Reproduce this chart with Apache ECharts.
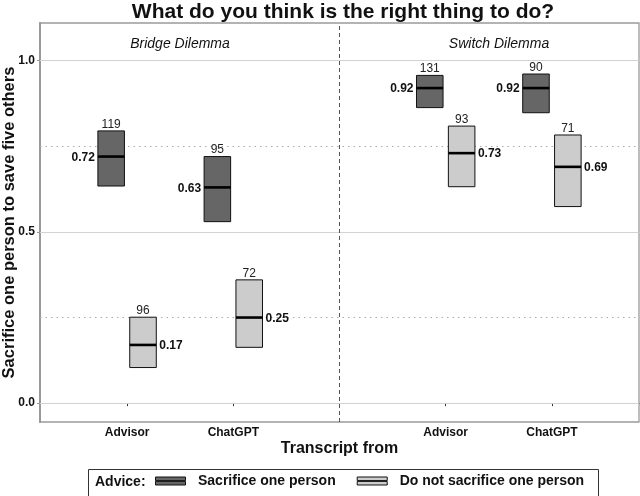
<!DOCTYPE html>
<html>
<head>
<meta charset="utf-8">
<script src="https://cdn.jsdelivr.net/npm/echarts@6.0.0/dist/echarts.min.js"></script>
<style>html,body{margin:0;padding:0;background:#fff}#chart{width:640px;height:496px}</style>
</head>
<body>
<div id="chart"></div>
<script>
const chartTitle = 'What do you think is the right thing to do?';
const dilemmas = ['Bridge Dilemma', 'Switch Dilemma'];
const sources = ['Advisor', 'ChatGPT'];
const adviceGroups = ['Sacrifice one person', 'Do not sacrifice one person'];
// order: Bridge-Advisor, Bridge-ChatGPT, Switch-Advisor, Switch-ChatGPT
const sacrificeMean = [0.72, 0.63, 0.92, 0.92];
const sacrificeLow  = [0.634, 0.530, 0.863, 0.848];
const sacrificeHigh = [0.795, 0.720, 0.957, 0.961];
const sacrificeN    = [119, 95, 131, 90];
const notSacrificeMean = [0.17, 0.25, 0.73, 0.69];
const notSacrificeLow  = [0.104, 0.163, 0.632, 0.574];
const notSacrificeHigh = [0.251, 0.360, 0.809, 0.783];
const notSacrificeN    = [96, 72, 93, 71];
const yTicks = [0, 0.5, 1.0];
const refLines = [0.25, 0.75];
const yAxisTitle = 'Sacrifice one person to save five others';
const xAxisTitle = 'Transcript from';
const legendTitle = 'Advice:';

const FONT = '"Liberation Sans", Arial, sans-serif';
const DODGE = 0.15, BOXW = 0.25;

function posOf(i) { // i: 0..3 -> x position 1,2,4,5
  const d = Math.floor(i / 2), c = i % 2;
  return d * 3 + c + 1;
}
function buildData(mean, lo, hi, n, off) {
  return mean.map((m, i) => [posOf(i) + off, lo[i], hi[i], m, n[i]]);
}

function makeRender(fill, labelSide) {
  return function (params, api) {
    const x = api.value(0), lo = api.value(1), hi = api.value(2), m = api.value(3), n = api.value(4);
    const tl = api.coord([x - BOXW / 2, hi]);
    const br = api.coord([x + BOXW / 2, lo]);
    const mid = api.coord([x, m]);
    const children = [
      { type: 'rect', shape: { x: tl[0], y: tl[1], width: br[0] - tl[0], height: br[1] - tl[1] },
        style: { fill: fill, stroke: '#111', lineWidth: 1 } },
      { type: 'line', shape: { x1: tl[0], y1: mid[1], x2: br[0], y2: mid[1] },
        style: { stroke: '#000', lineWidth: 2.6 } },
      { type: 'text', style: { text: String(n), x: mid[0], y: tl[1] - 0.5, align: 'center', verticalAlign: 'bottom',
        font: '12px ' + FONT, fill: '#222' } },
      { type: 'text', style: { text: m.toFixed(2), x: labelSide < 0 ? tl[0] - 3 : br[0] + 3, y: mid[1] + 1,
        align: labelSide < 0 ? 'right' : 'left', verticalAlign: 'middle', font: 'bold 12px ' + FONT, fill: '#111' } }
    ];
    return { type: 'group', children: children };
  };
}

const chart = echarts.init(document.getElementById('chart'), null, { renderer: 'canvas' });
const option = {
  backgroundColor: '#fff',
  animation: false,
  title: {
    text: chartTitle, left: 338, textAlign: 'center', top: -3,
    textStyle: { fontFamily: FONT, fontWeight: 'bold', fontSize: 21, color: '#111' }
  },
  grid: { left: 40, right: 1, top: 23, bottom: 74, show: true, borderColor: '#9a9a9a', borderWidth: 1.3,
          containLabel: false, outerBoundsMode: 'none' },
  xAxis: {
    type: 'value', min: 0.18, max: 5.82,
    name: xAxisTitle, nameLocation: 'middle', nameGap: 19, nameMoveOverlap: false,
    nameTextStyle: { fontFamily: FONT, fontWeight: 'bold', fontSize: 16, color: '#111' },
    axisLine: { show: true, lineStyle: { color: '#333', width: 1.2 } },
    axisTick: { show: true, customValues: [1, 2, 3, 4, 5], length: 3, lineStyle: { color: '#333' } },
    axisLabel: { customValues: [1, 2, 4, 5], margin: 5,
      formatter: v => sources[(Math.round(v) - 1) % 3],
      fontFamily: FONT, fontWeight: 'bold', fontSize: 12, color: '#111' },
    splitLine: { show: false }
  },
  yAxis: {
    type: 'value', min: -0.055, max: 1.11,
    name: yAxisTitle, nameLocation: 'middle', nameGap: 22, nameMoveOverlap: false,
    nameTextStyle: { fontFamily: FONT, fontWeight: 'bold', fontSize: 16.5, color: '#111' },
    axisLine: { show: true, lineStyle: { color: '#999', width: 2 } },
    axisTick: { show: true, customValues: yTicks, length: 3, lineStyle: { color: '#999' } },
    axisLabel: { customValues: yTicks, margin: 5, formatter: v => v.toFixed(1),
      fontFamily: FONT, fontWeight: 'bold', fontSize: 12, color: '#111' },
    splitLine: { show: false }
  },
  legend: {
    left: 155, top: 474, padding: 0, itemGap: 21, itemWidth: 31, itemHeight: 8,
    icon: 'path://M0,0H30V3.6H0Z M0,4.4H30V8H0Z',
    textStyle: { fontFamily: FONT, fontWeight: 'bold', fontSize: 14, color: '#111', padding: [0, 0, 0, 7] },
    data: [
      { name: adviceGroups[0], itemStyle: { color: '#666', borderColor: '#111', borderWidth: 1 } },
      { name: adviceGroups[1], itemStyle: { color: '#ccc', borderColor: '#111', borderWidth: 1 } }
    ]
  },
  graphic: [
    { type: 'rect', left: 86, top: 467, shape: { width: 510, height: 27 },
      style: { fill: 'none', stroke: '#333', lineWidth: 1 }, silent: true },
    { type: 'text', left: 95, top: 475, style: { text: legendTitle, font: 'bold 14px ' + FONT, fill: '#111' } },
    { type: 'text', x: 180, y: 44, style: { text: dilemmas[0], align: 'center', verticalAlign: 'middle', font: 'italic 14px ' + FONT, fill: '#111' } },
    { type: 'text', x: 499, y: 44, style: { text: dilemmas[1], align: 'center', verticalAlign: 'middle', font: 'italic 14px ' + FONT, fill: '#111' } }
  ],
  series: [
    {
      type: 'line', data: [], z: 1, silent: true,
      markLine: {
        silent: true, symbol: 'none', label: { show: false }, animation: false, z: 1,
        data: [
          ...yTicks.map(v => ({ yAxis: v, lineStyle: { color: '#d3d3d3', width: 1.2, type: 'solid' } })),
          ...refLines.map(v => ({ yAxis: v, lineStyle: { color: '#aaa', width: 1.2, type: [1.5, 4] } })),
          { xAxis: 3, lineStyle: { color: '#555', width: 1, type: [4, 3] } }
        ]
      }
    },
    {
      name: adviceGroups[0], type: 'custom', z: 10,
      itemStyle: { color: '#666' },
      renderItem: makeRender('#666666', -1),
      encode: { x: 0, y: [1, 2, 3] },
      data: buildData(sacrificeMean, sacrificeLow, sacrificeHigh, sacrificeN, -DODGE)
    },
    {
      name: adviceGroups[1], type: 'custom', z: 10,
      itemStyle: { color: '#ccc' },
      renderItem: makeRender('#cccccc', 1),
      encode: { x: 0, y: [1, 2, 3] },
      data: buildData(notSacrificeMean, notSacrificeLow, notSacrificeHigh, notSacrificeN, DODGE)
    }
  ]
};
chart.setOption(option);
</script>
</body>
</html>
